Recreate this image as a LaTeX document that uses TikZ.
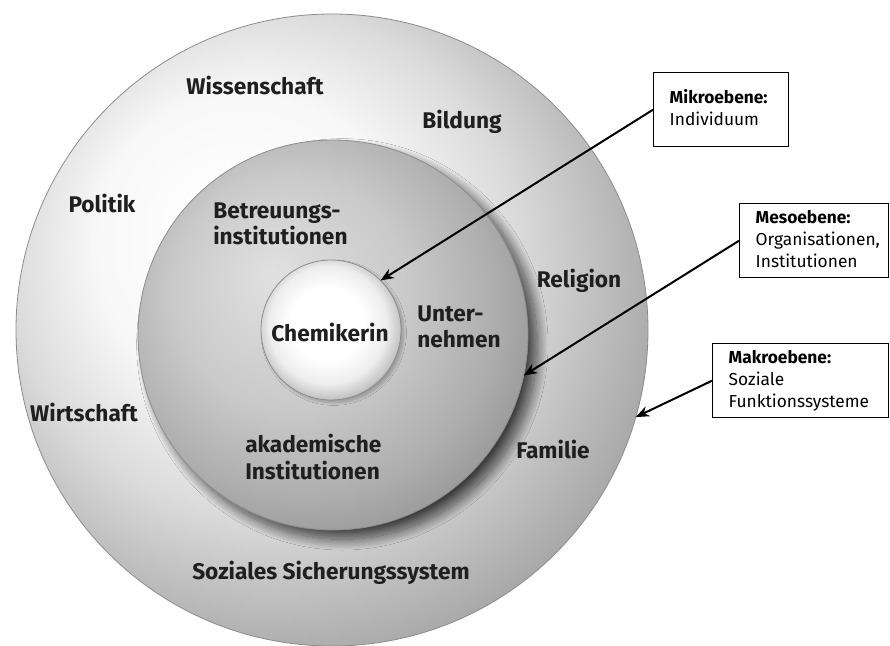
\documentclass[tikz,border=0pt]{standalone}
\usepackage{fontspec}
\setmainfont{Fira Sans}
\usetikzlibrary{arrows.meta,shadows.blur}
\pgfdeclareradialshading{makroshade}{\pgfpoint{-9bp}{9bp}}{color(0bp)=(white); color(12bp)=(black!3); color(20bp)=(black!14); color(27bp)=(black!28); color(32bp)=(black!38); color(34bp)=(black!52); color(36bp)=(black!76); color(37.5bp)=(black!88); color(50bp)=(black!88)}
\pgfdeclareradialshading{mesoshade}{\pgfpoint{-8bp}{8bp}}{color(0bp)=(black!12); color(15bp)=(black!21); color(25bp)=(black!32); color(33bp)=(black!44); color(37bp)=(black!60); color(50bp)=(black!60)}
\pgfdeclareradialshading{chemshade}{\pgfpoint{-2bp}{3bp}}{color(0bp)=(white); color(13bp)=(white); color(21bp)=(black!7); color(25bp)=(black!20); color(28bp)=(black!30); color(50bp)=(black!30)}

\begin{document}
\begin{tikzpicture}[x=0.75pt,y=-0.75pt,
  ring/.style={circle,inner sep=0pt,outer sep=0pt,draw=black!45,line width=0.6pt},
  lbl/.style={font=\fontsize{17}{20}\selectfont\bfseries,text=black!88,align=left,inner sep=0pt},
  ebene/.style={draw,line width=1.1pt,fill=white,align=left,anchor=north west,inner xsep=4.5pt,
    inner ysep=2pt,minimum height=55.5pt,font=\fontsize{13}{16.5}\selectfont},
  pfeil/.style={line width=1.5pt,-{Stealth[length=10pt,width=8pt]}}]
  \useasboundingbox (0,0) rectangle (890,646);
  \node[ring,minimum size=474pt,shading=makroshade] (makro) at (332,330) {};
  \node[ring,minimum size=292.5pt,shading=mesoshade,
    blur shadow={shadow xshift=7pt,shadow yshift=-7pt,shadow blur radius=8pt,shadow opacity=70,shadow blur steps=25}] (meso) at (333,335) {};
  \node[ring,minimum size=105pt,shading=chemshade,
    blur shadow={shadow xshift=2pt,shadow yshift=-2pt,shadow blur radius=2pt,shadow opacity=25,shadow blur steps=15}] (chem) at (331,330) {};
  \node[lbl] (wissenschaft) at (255,86) {Wissenschaft};
  \node[lbl] (bildung) at (462,122) {Bildung};
  \node[lbl] (politik) at (102,204) {Politik};
  \node[lbl,anchor=west] (betreuung) at (213,224) {Betreuungs-\\institutionen};
  \node[lbl] (religion) at (579,281) {Religion};
  \node[lbl,anchor=west] (unternehmen) at (417,327) {Unter-\\nehmen};
  \node[lbl] (chemikerin) at (330,332) {Chemikerin};
  \node[lbl] (wirtschaft) at (84,412) {Wirtschaft};
  \node[lbl,anchor=west] (akademisch) at (245,457) {akademische\\Institutionen};
  \node[lbl] (familie) at (553,449) {Familie};
  \node[lbl] (sozial) at (331,573) {Soziales Sicherungssystem};
  \node[ebene,text width=92.25pt] (mikrobox) at (653,72)
    {\begin{tabular}{@{\hspace{7.5pt}}l@{}}\textbf{Mikroebene:}\\Individuum\end{tabular}};
  \node[ebene,text width=102.75pt] (mesobox) at (739,203)
    {\begin{tabular}{@{\hspace{7.5pt}}l@{}}\textbf{Mesoebene:}\\Organisationen,\\Institutionen\end{tabular}};
  \node[ebene,text width=123pt] (makrobox) at (712,343)
    {\begin{tabular}{@{\hspace{7.5pt}}l@{}}\textbf{Makroebene:}\\Soziale\\Funktionssysteme\end{tabular}};
  \draw[pfeil] (mikrobox.west) -- (chem.45);
  \draw[pfeil] (mesobox.west) -- (meso.-12);
  \draw[pfeil] (makrobox.west) -- (makro.-16);
\end{tikzpicture}
\end{document}
